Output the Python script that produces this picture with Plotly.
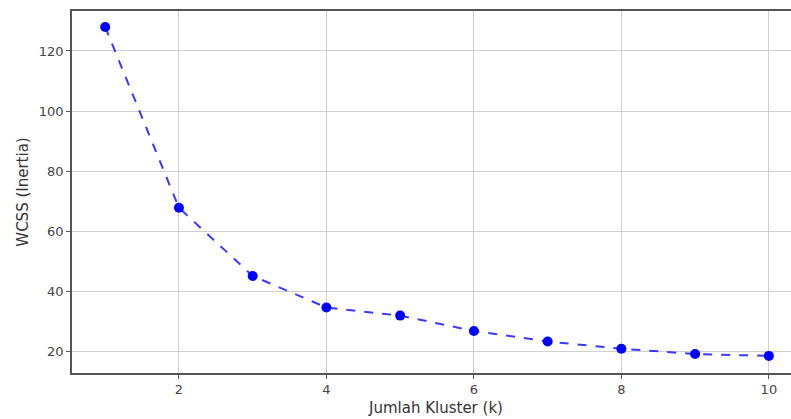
import plotly.graph_objects as go

k_values = [1, 2, 3, 4, 5, 6, 7, 8, 9, 10]
wcss = [128.0, 67.8, 45.1, 34.6, 31.9, 26.8, 23.3, 20.9, 19.1, 18.5]
x_ticks = [2, 4, 6, 8, 10]
y_ticks = [20, 40, 60, 80, 100, 120]

W, H = 791, 419
L, R, T, B = 72, 0, 11, 46

fig = go.Figure()
fig.add_trace(go.Scatter(
    x=k_values, y=wcss, mode="lines+markers",
    line=dict(color="rgba(0,0,255,0.78)", width=2, dash="dash"),
    marker=dict(color="blue", size=10),
    showlegend=False,
))

font = "DejaVu Sans, sans-serif"
fig.update_layout(
    width=W, height=H,
    margin=dict(l=L, r=R, t=T, b=B, pad=0),
    paper_bgcolor="white", plot_bgcolor="white",
    font=dict(family=font, size=13, color="#444"),
    xaxis=dict(
        range=[0.55, 10.30], tickvals=x_ticks,
        showgrid=True, gridcolor="#cfcfcf", gridwidth=1,
        showline=True, linecolor="#555", linewidth=1.5, mirror=True,
        ticks="outside", ticklen=4, tickcolor="#555",
        zeroline=False, tickfont=dict(size=13, color="#444"),
    ),
    yaxis=dict(
        range=[12.8, 133.3], tickvals=y_ticks,
        showgrid=True, gridcolor="#cfcfcf", gridwidth=1,
        showline=True, linecolor="#555", linewidth=1.5, mirror=False,
        ticks="outside", ticklen=4, tickcolor="#555",
        zeroline=False, tickfont=dict(size=13, color="#444"),
        title=dict(text="WCSS (Inertia)", font=dict(size=15, color="#333"), standoff=7),
    ),
    annotations=[dict(
        text="Jumlah Kluster (k)", xref="paper", yref="paper",
        x=(436 - L) / (W - L - R), y=-(408 - (H - B)) / (H - T - B),
        xanchor="center", yanchor="middle", showarrow=False,
        font=dict(size=15, color="#333", family=font),
    )],
)

fig.write_html(
    "out.html",
    config={"displayModeBar": False},
    post_script="document.body.style.margin='0';document.body.style.overflow='hidden';",
)
